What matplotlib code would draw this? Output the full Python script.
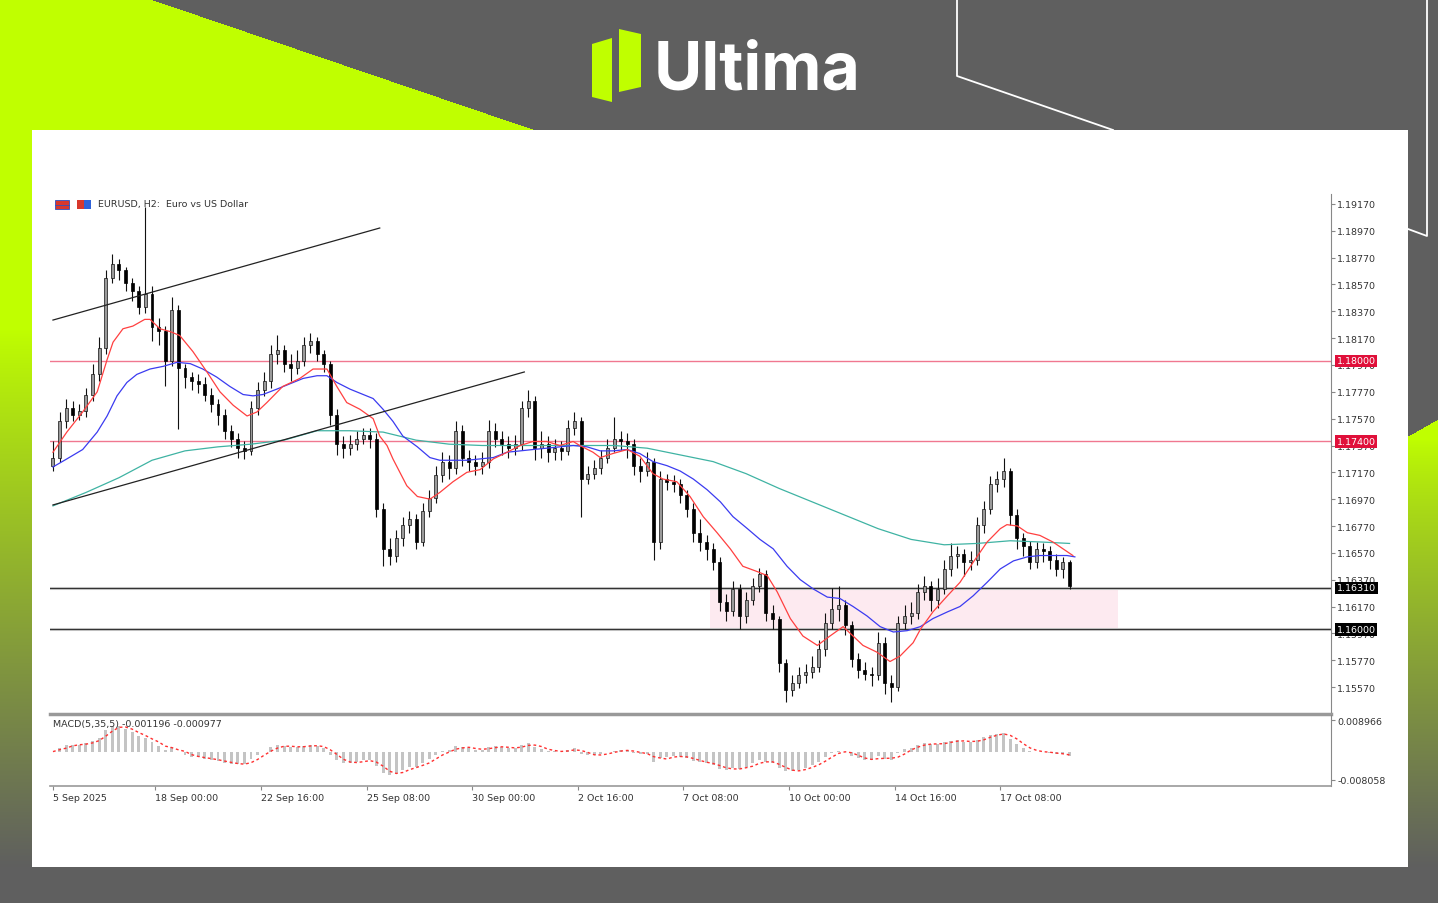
import numpy as np
import pandas as pd
import matplotlib
matplotlib.use("Agg")
import matplotlib.pyplot as plt
import matplotlib.transforms as mtrans
from matplotlib.patches import Rectangle, Polygon

# ---- EURUSD candles (one candle per 4 hours) ----
first_open = 1.1722
closes = [
    1.1728, 1.1755, 1.1765, 1.1760, 1.1763, 1.1775, 1.1790, 1.1810, 1.1862, 1.1872,
    1.1868, 1.1858, 1.1852, 1.1840, 1.1850, 1.1825, 1.1822, 1.1800, 1.1838, 1.1795,
    1.1788, 1.1785, 1.1783, 1.1775, 1.1768, 1.1760, 1.1748, 1.1742, 1.1735, 1.1733,
    1.1765, 1.1778, 1.1785, 1.1805, 1.1808, 1.1798, 1.1795, 1.1800, 1.1812, 1.1815,
    1.1805, 1.1798, 1.1760, 1.1738, 1.1735, 1.1738, 1.1742, 1.1745, 1.1742, 1.1690,
    1.1660, 1.1655, 1.1668, 1.1678, 1.1682, 1.1665, 1.1688, 1.1698, 1.1715, 1.1725,
    1.1720, 1.1748, 1.1728, 1.1725, 1.1722, 1.1725, 1.1748, 1.1742, 1.1738, 1.1735,
    1.1738, 1.1765, 1.1770, 1.1735, 1.1738, 1.1732, 1.1735, 1.1733, 1.1750, 1.1755,
    1.1712, 1.1716, 1.1720, 1.1728, 1.1735, 1.1742, 1.1740, 1.1738, 1.1722, 1.1718,
    1.1725, 1.1665, 1.1712, 1.1710, 1.1708, 1.1700, 1.1690, 1.1672, 1.1665, 1.1660,
    1.1650, 1.1620, 1.1614, 1.1630, 1.1610, 1.1622, 1.1632, 1.1641, 1.1612, 1.1608,
    1.1575, 1.1555, 1.1560, 1.1566, 1.1568, 1.1572, 1.1585, 1.1605, 1.1615, 1.1618,
    1.1603, 1.1578, 1.1570, 1.1567, 1.1566, 1.1590, 1.1560, 1.1557, 1.1605, 1.1610,
    1.1612, 1.1628, 1.1632, 1.1622, 1.1630, 1.1645, 1.1655, 1.1656, 1.1650, 1.1652,
    1.1678, 1.1690, 1.1708, 1.1712, 1.1718, 1.1685, 1.1668, 1.1662, 1.1650, 1.1660,
    1.1658, 1.1652, 1.1645, 1.1650, 1.1632]
highs = [
    1.1740, 1.1762, 1.1772, 1.1770, 1.1768, 1.1780, 1.1798, 1.1818, 1.1868, 1.1880,
    1.1876, 1.1870, 1.1862, 1.1856, 1.1915, 1.1856, 1.1832, 1.1826, 1.1848, 1.1842,
    1.1798, 1.1792, 1.1790, 1.1788, 1.1780, 1.1772, 1.1764, 1.1752, 1.1746, 1.1740,
    1.1770, 1.1784, 1.1792, 1.1812, 1.1819, 1.1812, 1.1805, 1.1808, 1.1818, 1.1821,
    1.1818, 1.1808, 1.1800, 1.1764, 1.1744, 1.1745, 1.1748, 1.1750, 1.1750, 1.1746,
    1.1694, 1.1668, 1.1674, 1.1684, 1.1688, 1.1686, 1.1694, 1.1704, 1.1722, 1.1732,
    1.1730, 1.1755, 1.1752, 1.1734, 1.1730, 1.1732, 1.1756, 1.1754, 1.1748, 1.1744,
    1.1745, 1.1770, 1.1778, 1.1774, 1.1748, 1.1744, 1.1742, 1.1740, 1.1756, 1.1762,
    1.1758, 1.1722, 1.1726, 1.1734, 1.1742, 1.1758, 1.1748, 1.1746, 1.1742, 1.1728,
    1.1732, 1.1728, 1.1718, 1.1716, 1.1715, 1.1712, 1.1704, 1.1694, 1.1682, 1.1670,
    1.1664, 1.1654, 1.1626, 1.1636, 1.1634, 1.1628, 1.1638, 1.1646, 1.1644, 1.1618,
    1.1610, 1.1578, 1.1566, 1.1572, 1.1574, 1.1580, 1.1592, 1.1612, 1.1631, 1.1632,
    1.1622, 1.1606, 1.1582, 1.1576, 1.1572, 1.1598, 1.1594, 1.1566, 1.1610, 1.1618,
    1.1620, 1.1634, 1.1640, 1.1636, 1.1638, 1.1652, 1.1664, 1.1662, 1.1660, 1.1658,
    1.1684, 1.1696, 1.1714, 1.1718, 1.1728, 1.1720, 1.1690, 1.1672, 1.1666, 1.1665,
    1.1664, 1.1662, 1.1656, 1.1654, 1.1652]
lows = [
    1.1718, 1.1725, 1.1750, 1.1755, 1.1756, 1.1758, 1.1770, 1.1785, 1.1805, 1.1858,
    1.1860, 1.1852, 1.1845, 1.1835, 1.1836, 1.1815, 1.1812, 1.1781, 1.1796, 1.1749,
    1.1780, 1.1778, 1.1776, 1.1770, 1.1762, 1.1752, 1.1742, 1.1736, 1.1728, 1.1727,
    1.1730, 1.1760, 1.1774, 1.1780, 1.1798, 1.1792, 1.1785, 1.1790, 1.1796, 1.1806,
    1.1800, 1.1792, 1.1752, 1.1730, 1.1728, 1.1730, 1.1734, 1.1738, 1.1735, 1.1684,
    1.1647, 1.1648, 1.1650, 1.1662, 1.1672, 1.1660, 1.1662, 1.1684, 1.1694, 1.1710,
    1.1712, 1.1716, 1.1722, 1.1718, 1.1715, 1.1716, 1.1720, 1.1736, 1.1730, 1.1728,
    1.1730, 1.1734, 1.1758, 1.1726, 1.1728, 1.1725, 1.1726, 1.1726, 1.1730, 1.1745,
    1.1684, 1.1708, 1.1712, 1.1716, 1.1724, 1.1732, 1.1734, 1.1728, 1.1715, 1.1710,
    1.1714, 1.1652, 1.1660, 1.1704, 1.1702, 1.1694, 1.1684, 1.1665, 1.1658, 1.1652,
    1.1644, 1.1614, 1.1606, 1.1610, 1.1600, 1.1605, 1.1618, 1.1628, 1.1606, 1.1600,
    1.1568, 1.1546, 1.1550, 1.1556, 1.1560, 1.1564, 1.1568, 1.1580, 1.1600, 1.1606,
    1.1596, 1.1572, 1.1564, 1.1562, 1.1558, 1.1562, 1.1552, 1.1546, 1.1554, 1.1600,
    1.1604, 1.1608, 1.1622, 1.1614, 1.1616, 1.1626, 1.1640, 1.1646, 1.1640, 1.1644,
    1.1648, 1.1672, 1.1686, 1.1702, 1.1706, 1.1678, 1.1660, 1.1655, 1.1645, 1.1646,
    1.1650, 1.1645, 1.1640, 1.1638, 1.1630]

# moving averages (candle index, price)
red_idx = [0, 2.1, 4.5, 6.7, 8.2, 9.1, 10.6, 12.1, 13.9, 14.7, 16.2, 17.7, 19.2, 21.2, 23.3,
           25.3, 27.3, 29.4, 30.9, 32.4, 34.8, 37.4, 39.4, 41.5, 43.0, 44.5, 46.5, 48.5,
           49.5, 50.6, 51.5, 53.6, 55.2, 57.1, 58.6, 60.6, 62.7, 64.7, 66.7, 68.8, 70.8,
           72.7, 74.8, 76.8, 78.8, 79.8, 81.8, 82.9, 84.8, 87.0, 88.9, 90.9, 92.4, 94.5,
           96.5, 98.5, 100.6, 102.6, 104.5, 106.7, 108.2, 109.7, 111.7, 113.6, 115.8,
           117.7, 119.7, 121.2, 122.7, 124.8, 126.8, 128.3, 130.3, 131.4, 133.3, 135.5,
           137.4, 139.4, 141.5, 143.5, 144.5, 146.1, 147.6, 149.5, 151.5, 153.6, 154.5]
red_val = [1.1732, 1.1747, 1.1762, 1.1777, 1.1801, 1.1814, 1.1824, 1.1826, 1.1831, 1.1831,
           1.1824, 1.1822, 1.1819, 1.1807, 1.1792, 1.1777, 1.1767, 1.1759, 1.1762, 1.1769,
           1.1781, 1.1787, 1.1794, 1.1794, 1.1781, 1.1769, 1.1764, 1.1757, 1.1744, 1.1737,
           1.1727, 1.1707, 1.1699, 1.1697, 1.1702, 1.1710, 1.1717, 1.1719, 1.1727, 1.1732,
           1.1737, 1.1740, 1.1740, 1.1737, 1.1740, 1.1737, 1.1732, 1.1728, 1.1731, 1.1734,
           1.1729, 1.1716, 1.1712, 1.1710, 1.1699, 1.1684, 1.1672, 1.1660, 1.1647, 1.1643,
           1.1640, 1.1628, 1.1608, 1.1595, 1.1588, 1.1595, 1.1602, 1.1595, 1.1588, 1.1583,
           1.1576, 1.1580, 1.1590, 1.1600, 1.1613, 1.1625, 1.1635, 1.1650, 1.1665, 1.1675,
           1.1678, 1.1677, 1.1672, 1.1670, 1.1665, 1.1658, 1.1655]
blue_idx = [0, 2.1, 4.5, 6.7, 8.2, 9.7, 11.2, 12.7, 14.7, 16.7, 18.8, 20.8, 22.7, 24.8, 26.8,
            28.8, 30.3, 31.8, 33.9, 35.9, 37.9, 40.0, 41.5, 43.0, 45.0, 47.0, 48.5, 50.0,
            51.5, 53.0, 55.2, 57.1, 58.6, 60.6, 62.7, 64.7, 66.7, 68.8, 70.8, 72.7, 74.8,
            76.8, 78.8, 80.9, 82.9, 84.8, 87.0, 88.9, 90.9, 93.0, 95.0, 97.0, 99.1, 101.1,
            103.0, 105.2, 107.1, 109.1, 111.2, 113.2, 115.2, 117.3, 119.2, 121.2, 123.3,
            125.3, 127.3, 129.4, 131.4, 133.3, 135.5, 137.4, 139.4, 141.5, 143.5, 145.5,
            147.6, 149.5, 151.5, 153.6, 154.8]
blue_val = [1.1721, 1.1727, 1.1734, 1.1747, 1.1759, 1.1774, 1.1784, 1.1790, 1.1794, 1.1796,
            1.1799, 1.1798, 1.1794, 1.1788, 1.1781, 1.1775, 1.1774, 1.1775, 1.1779, 1.1783,
            1.1787, 1.1789, 1.1789, 1.1784, 1.1779, 1.1775, 1.1772, 1.1764, 1.1755, 1.1744,
            1.1736, 1.1728, 1.1726, 1.1726, 1.1726, 1.1727, 1.1728, 1.1732, 1.1733, 1.1734,
            1.1735, 1.1736, 1.1737, 1.1736, 1.1733, 1.1733, 1.1734, 1.1731, 1.1725, 1.1722,
            1.1718, 1.1712, 1.1704, 1.1695, 1.1684, 1.1675, 1.1667, 1.1660, 1.1647, 1.1637,
            1.1630, 1.1624, 1.1623, 1.1617, 1.1610, 1.1602, 1.1598, 1.1599, 1.1602, 1.1608,
            1.1613, 1.1617, 1.1625, 1.1635, 1.1645, 1.1651, 1.1654, 1.1655, 1.1655, 1.1655,
            1.1654]
teal_idx = list(range(0, 155, 5)) + [154]
teal_val = [1.1692, 1.1702, 1.1713, 1.1726, 1.1733, 1.1736, 1.1738, 1.1741, 1.1748, 1.1748,
            1.1747, 1.1741, 1.1738, 1.1737, 1.1737, 1.1737, 1.1737, 1.1737, 1.1735, 1.1730,
            1.1725, 1.1716, 1.1705, 1.1695, 1.1685, 1.1675, 1.1667, 1.1663, 1.1664, 1.1666,
            1.1665, 1.1664]

# channel lines (candle index, price)
channel_upper = [(0, 1.18305), (49.5, 1.18991)]
channel_lower = [(0, 1.16927), (71.4, 1.17918)]

red_levels = [1.18000, 1.17400]
black_levels = [1.16310, 1.16000]
zone = (99.5, 161.4, 1.16000, 1.16310)

price_ticks = [1.19170, 1.18970, 1.18770, 1.18570, 1.18370, 1.18170, 1.17970, 1.17770,
               1.17570, 1.17370, 1.17170, 1.16970, 1.16770, 1.16570, 1.16370, 1.16170,
               1.15970, 1.15770, 1.15570]
date_pos = [0, 15.5, 31.5, 47.5, 63.5, 79.5, 95.5, 111.5, 127.5, 143.5]
date_labels = ["5 Sep 2025", "18 Sep 00:00", "22 Sep 16:00", "25 Sep 08:00", "30 Sep 00:00",
               "2 Oct 16:00", "7 Oct 08:00", "10 Oct 00:00", "14 Oct 16:00", "17 Oct 08:00"]

W, H = 1438, 904
fig = plt.figure(figsize=(W / 100, H / 100), dpi=100)

# ---- branded background ----
bg = fig.add_axes([0, 0, 1, 1])
grey = np.array([95, 95, 95]) / 255
lime = np.array([192, 255, 0]) / 255
yy, xx = np.mgrid[0:H, 0:W]
img = np.ones((H, W, 3)) * grey
tri = (yy <= 131) & (xx < 150 + 385 * yy / 131)
img[tri] = lime
left = (xx < 32) & (yy > 131)
t = np.clip((yy - 330) / (868 - 330), 0, 1) ** 0.9
mix = lime * (1 - t[..., None]) + grey * t[..., None]
img[left] = mix[left]
right = (xx >= 1408) & (yy >= 437 - (xx - 1408) * 17 / 30)
t2 = np.clip((yy - 440) / (868 - 440), 0, 1) ** 0.8
mix2 = lime * (1 - t2[..., None]) + grey * t2[..., None]
img[right] = mix2[right]
bg.imshow(img, extent=(0, W, H, 0), aspect="auto", interpolation="nearest")
bg.add_patch(Rectangle((32, 131), 1376, 737, fc="white", ec="none"))
bg.plot([957, 957, 1113], [0, 77, 131], color="white", lw=1.3)
bg.plot([1427, 1427, 1408], [0, 237, 230], color="white", lw=1.3)
bg.add_patch(Polygon([(592, 45), (612, 39), (612, 103), (592, 98)], fc="#c0ff00", ec="none"))
bg.add_patch(Polygon([(619, 30), (641, 35), (641, 88), (619, 93)], fc="#c0ff00", ec="none"))
bg.text(654, 90, "Ultima", color="white", fontsize=47.5, fontweight="bold",
        family=["Inter", "DejaVu Sans"], va="baseline", ha="left")
# symbol icons of the chart window
bg.add_patch(Rectangle((55, 201), 14, 9, fc="#d8382c", ec="#3050c0", lw=0.6))
bg.plot([55, 69], [205.5, 205.5], color="#3050c0", lw=0.6)
bg.add_patch(Rectangle((77, 201), 7, 9, fc="#d8382c", ec="none"))
bg.add_patch(Rectangle((84, 201), 7, 9, fc="#2f62d8", ec="none"))
bg.set_xlim(0, W)
bg.set_ylim(H, 0)
bg.axis("off")

txt = dict(fontsize=6.8, color="#333333")

# ---- price panel ----
ax = fig.add_axes([50 / W, 1 - 715 / H, 1281 / W, 520 / H])
ax.patch.set_alpha(0)
n = len(closes)
idx = np.arange(n)
opens = np.array([first_open] + closes[:-1])
c = np.array(closes)
hi = np.maximum(np.array(highs), np.maximum(opens, c))
lo = np.minimum(np.array(lows), np.minimum(opens, c))
bull = c >= opens

ax.add_patch(Rectangle((zone[0], zone[2]), zone[1] - zone[0], zone[3] - zone[2],
                       fc="#fdeaf0", ec="none", zorder=0))
for lv in red_levels:
    ax.axhline(lv, color="#f07890", lw=1.0, zorder=1)
for lv in black_levels:
    ax.axhline(lv, color="#c8c8c8", lw=2.2, zorder=1)
    ax.axhline(lv, color="#333333", lw=0.8, zorder=1)

ax.vlines(idx, lo, hi, color="#111111", lw=0.8, zorder=3)
body_h = np.maximum(np.abs(c - opens), 0.00004)
ax.bar(idx[bull], body_h[bull], bottom=np.minimum(opens, c)[bull], width=0.45,
       color="#9a9a9a", edgecolor="#111111", lw=0.5, zorder=3)
ax.bar(idx[~bull], body_h[~bull], bottom=np.minimum(opens, c)[~bull], width=0.45,
       color="#000000", edgecolor="#000000", lw=0.5, zorder=3)

ax.plot(teal_idx, teal_val, color="#3fb3a3", lw=0.9, zorder=4)
ax.plot(blue_idx, blue_val, color="#3b3bf0", lw=0.9, zorder=4)
ax.plot(red_idx, red_val, color="#ff4040", lw=0.9, zorder=4)
for ln in (channel_upper, channel_lower):
    ax.plot([p[0] for p in ln], [p[1] for p in ln], color="#222222", lw=0.9, zorder=4)

ax.set_xlim(-0.45, 193.6)
ax.set_ylim(1.153688, 1.192445)
ax.yaxis.tick_right()
ax.set_yticks(price_ticks)
ax.set_yticklabels([f"{v:.5f}" for v in price_ticks])
ax.tick_params(axis="y", direction="out", length=3, width=0.8, colors="#888888",
               labelcolor="#333333", labelsize=6.8, pad=1.5)
ax.set_xticks([])
for s in ("top", "left"):
    ax.spines[s].set_visible(False)
ax.spines["right"].set_color("#888888")
ax.spines["bottom"].set_color("#999999")
ax.spines["bottom"].set_linewidth(2.5)

blend = mtrans.blended_transform_factory(ax.transAxes, ax.transData)
for lv, col in [(1.18, "#e0103a"), (1.174, "#e0103a"), (1.1631, "#000000"), (1.16, "#000000")]:
    ax.text(1.0045, lv, f"{lv:.5f}", transform=blend, ha="left", va="center",
            color="white", fontsize=6.8, clip_on=False, zorder=10,
            bbox=dict(boxstyle="square,pad=0.18", fc=col, ec="none"))
fig.text(98 / W, 1 - 205 / H, "EURUSD, H2:  Euro vs US Dollar", va="center", **txt)

# ---- MACD(5,35,5) panel ----
ax2 = fig.add_axes([50 / W, 1 - 787 / H, 1281 / W, 71 / H])
ax2.patch.set_alpha(0)
s = pd.Series(closes)
macd = s.ewm(span=3, adjust=False).mean() - s.ewm(span=18, adjust=False).mean()
signal = macd.rolling(3, min_periods=1).mean()
ax2.bar(idx, macd, width=0.45, color="#c4c4c4", zorder=2)
ax2.plot(idx, signal, color="#ff3030", lw=1.0, ls=(0, (2, 2)), zorder=3)
ax2.set_xlim(-0.45, 193.6)
ax2.set_ylim(-0.009761, 0.010385)
ax2.yaxis.tick_right()
ax2.set_yticks([0.008966, -0.008058])
ax2.set_yticklabels(["0.008966", "-0.008058"])
ax2.tick_params(axis="y", direction="out", length=3, width=0.8, colors="#888888",
                labelcolor="#333333", labelsize=6.8, pad=1.5)
ax2.set_xticks(date_pos)
ax2.set_xticklabels(date_labels)
for lab in ax2.get_xticklabels():
    lab.set_ha("left")
ax2.tick_params(axis="x", direction="out", length=3, width=0.8, colors="#888888",
                labelcolor="#333333", labelsize=6.8, pad=2)
for sp in ("top", "left"):
    ax2.spines[sp].set_visible(False)
ax2.spines["right"].set_color("#888888")
ax2.spines["bottom"].set_color("#999999")
ax2.spines["bottom"].set_linewidth(1.2)
ax2.text(0.002, 0.88, "MACD(5,35,5) -0.001196 -0.000977", transform=ax2.transAxes,
         ha="left", va="center", **txt)

fig.savefig("out.png", dpi=100)
